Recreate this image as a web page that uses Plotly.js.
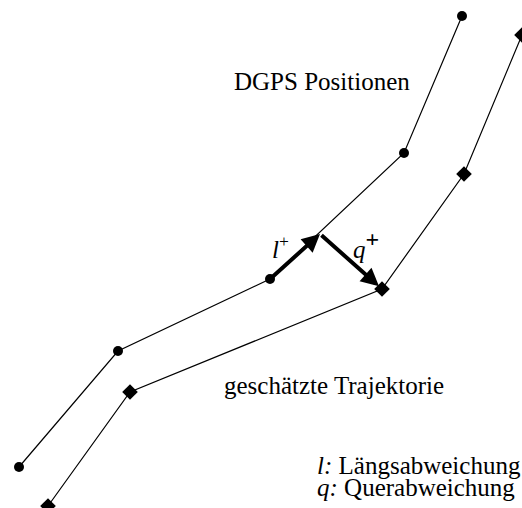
<!DOCTYPE html>
<html>
<head>
<meta charset="utf-8">
<script src="https://cdn.plot.ly/plotly-3.0.1.min.js"></script>
<style>html,body{margin:0;padding:0;background:#fff;}#chart{width:522px;height:508px;}</style>
</head>
<body>
<div id="chart"></div>
<script>
// DGPS positions (schematic units, y up)
const dgpsX = [19, 118, 270, 404, 462];
const dgpsY = [41, 157, 229, 355, 492];
// estimated trajectory
const trajX = [48, 130, 382, 464, 522];
const trajY = [2, 116, 219, 334, 473];
// foot point of the deviation arrows (on the DGPS segment)
const footX = [320];
const footY = [274];
// label texts
const labelDGPS = "DGPS Positionen";
const labelTraj = "geschätzte Trajektorie";
const legendL = "<i>l:</i> Längsabweichung";
const legendQ = "<i>q:</i> Querabweichung";

const serif = "Liberation Serif, Times New Roman, serif";
const fs = 25;

const traces = [
  {x: dgpsX, y: dgpsY, mode: "lines+markers", type: "scatter",
   line: {color: "#000", width: 1.2},
   marker: {symbol: "circle", size: 10, color: "#000"}, cliponaxis: false, hoverinfo: "skip"},
  {x: trajX, y: trajY, mode: "lines+markers", type: "scatter",
   line: {color: "#000", width: 1.2},
   marker: {symbol: "diamond", size: 12, color: "#000"}, cliponaxis: false, hoverinfo: "skip"}
];

const arrowBase = {xref: "x", yref: "y", axref: "x", ayref: "y", text: "", showarrow: true,
  arrowhead: 2, arrowsize: 0.9, arrowwidth: 4, arrowcolor: "#000"};

const annotations = [
  Object.assign({}, arrowBase, {x: footX[0], y: footY[0], ax: dgpsX[2], ay: dgpsY[2], standoff: 0, startstandoff: 0}),
  Object.assign({}, arrowBase, {x: trajX[2], y: trajY[2], ax: footX[0], ay: footY[0], standoff: 4}),
  {xref: "x", yref: "y", x: 280, y: 261, text: "<i>l</i><sup>+</sup>", showarrow: false,
   font: {family: serif, size: fs, color: "#000"}},
  {xref: "x", yref: "y", x: 366, y: 264, text: "<i>q</i><sup><span style='font-size:24px'><b>+</b></span></sup>", showarrow: false,
   font: {family: serif, size: fs, color: "#000"}},
  {xref: "x", yref: "y", x: 232, y: 427, xanchor: "left", text: labelDGPS, showarrow: false,
   font: {family: serif, size: fs, color: "#000"}},
  {xref: "x", yref: "y", x: 222, y: 123, xanchor: "left", text: labelTraj, showarrow: false,
   font: {family: serif, size: fs, color: "#000"}},
  {xref: "x", yref: "y", x: 315, y: 43, xanchor: "left", text: legendL, showarrow: false,
   font: {family: serif, size: fs, color: "#000"}},
  {xref: "x", yref: "y", x: 315, y: 21, xanchor: "left", text: legendQ, showarrow: false,
   font: {family: serif, size: fs, color: "#000"}}
];

const layout = {
  width: 522, height: 508,
  margin: {l: 0, r: 0, t: 0, b: 0},
  paper_bgcolor: "#fff", plot_bgcolor: "#fff",
  showlegend: false,
  xaxis: {range: [0, 522], visible: false, fixedrange: true},
  yaxis: {range: [0, 508], visible: false, fixedrange: true},
  annotations: annotations
};

Plotly.newPlot("chart", traces, layout, {staticPlot: true, displayModeBar: false});
</script>
</body>
</html>
